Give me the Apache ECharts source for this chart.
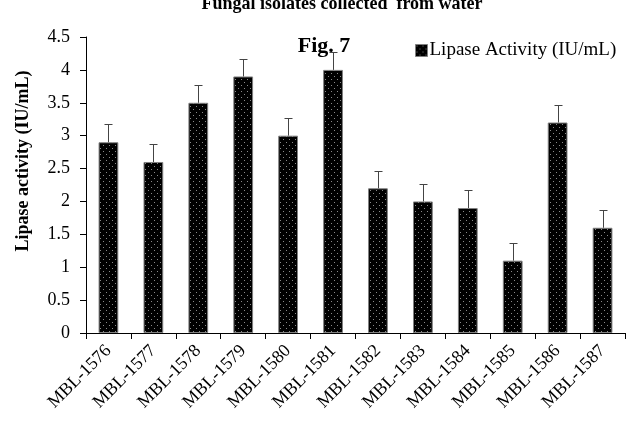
<!DOCTYPE html>
<html>
<head>
<meta charset="utf-8">
<script src="https://cdn.jsdelivr.net/npm/echarts@6/dist/echarts.min.js"></script>
<style>html,body{margin:0;padding:0;background:#fff}#c{width:627px;height:439px}</style>
</head>
<body>
<div id="c"></div>
<script>
const categories = ['MBL-1576','MBL-1577','MBL-1578','MBL-1579','MBL-1580','MBL-1581','MBL-1582','MBL-1583','MBL-1584','MBL-1585','MBL-1586','MBL-1587'];
const lipaseValues = [2.9, 2.6, 3.5, 3.9, 3.0, 4.0, 2.2, 2.0, 1.9, 1.1, 3.2, 1.6];
const lipaseErrors = [0.27, 0.27, 0.27, 0.27, 0.27, 0.27, 0.27, 0.27, 0.27, 0.27, 0.27, 0.27];
const seriesName = 'Lipase Activity (IU/mL)';
const chartTitle = 'Fungal isolates collected  from water';
const figLabel = 'Fig. 7';
const yAxisName = 'Lipase activity (IU/mL)';

const FONT = '"Liberation Serif", "Times New Roman", serif';

// dotted pattern
const pc = document.createElement('canvas');
pc.width = 6; pc.height = 6;
const pctx = pc.getContext('2d');
pctx.fillStyle = '#000';
pctx.fillRect(0, 0, 6, 6);
pctx.fillStyle = '#8a8a8a';
pctx.fillRect(1, 1, 1, 1);
pctx.fillRect(4, 4, 1, 1);

const chart = echarts.init(document.getElementById('c'), null, {renderer: 'canvas'});
const errData = lipaseValues.map((v, i) => [i, v, lipaseErrors[i]]);

chart.setOption({
  backgroundColor: '#fff',
  animation: false,
  title: [{
    text: chartTitle,
    left: 337, top: -10, textAlign: 'center',
    textStyle: {fontFamily: FONT, fontWeight: 'bold', fontSize: 18, color: '#000'}
  }, {
    text: figLabel,
    left: 319, top: 30, textAlign: 'center',
    textStyle: {fontFamily: FONT, fontWeight: 'bold', fontSize: 22, color: '#000'}
  }],
  legend: {
    data: [seriesName],
    left: 410, top: 36,
    itemWidth: 12, itemHeight: 12, itemGap: 5,
    icon: 'rect',
    textStyle: {fontFamily: FONT, fontSize: 19, color: '#000', padding: [0,0,0,-3]},
    itemStyle: {borderColor: '#808080', borderWidth: 1}
  },
  graphic: [{
    type: 'text',
    x: 23, y: 161,
    rotation: Math.PI / 2,
    style: {
      text: yAxisName,
      font: 'bold 18px ' + FONT,
      fill: '#000',
      align: 'center',
      verticalAlign: 'middle'
    }
  }],
  grid: {left: 86, right: 2, top: 37, bottom: 106, containLabel: false},
  xAxis: {
    type: 'category',
    data: categories,
    boundaryGap: true,
    axisLine: {lineStyle: {color: '#000', width: 1}},
    axisTick: {show: true, length: 6, lineStyle: {color: '#000'}},
    axisLabel: {rotate: 45, fontFamily: FONT, fontSize: 18, color: '#000', margin: 15, interval: 0}
  },
  yAxis: {
    type: 'value',
    min: 0, max: 4.5, interval: 0.5,
    splitLine: {show: false},
    axisLine: {show: true, lineStyle: {color: '#000', width: 1}},
    axisTick: {show: true, length: 6, lineStyle: {color: '#000'}},
    axisLabel: {fontFamily: FONT, fontSize: 18, color: '#000', margin: 16}
  },
  series: [{
    name: seriesName,
    type: 'bar',
    data: lipaseValues,
    barWidth: '44%',
    itemStyle: {color: {image: pc, repeat: 'repeat'}, borderColor: '#808080', borderWidth: 1}
  }, {
    name: 'err',
    type: 'custom',
    data: errData,
    z: 5,
    renderItem: function (params, api) {
      const i = api.value(0);
      const v = api.value(1);
      const e = api.value(2);
      const p0 = api.coord([i, v]);
      const p1 = api.coord([i, v + e]);
      const x = Math.round(p0[0]) + 0.5;
      const cap = 4;
      return {
        type: 'group',
        children: [{
          type: 'line',
          shape: {x1: x, y1: p0[1], x2: x, y2: Math.round(p1[1]) + 0.5},
          style: {stroke: '#444', lineWidth: 1}
        }, {
          type: 'line',
          shape: {x1: x - cap, y1: Math.round(p1[1]) + 0.5, x2: x + cap, y2: Math.round(p1[1]) + 0.5},
          style: {stroke: '#444', lineWidth: 1}
        }]
      };
    }
  }]
});
</script>
</body>
</html>
